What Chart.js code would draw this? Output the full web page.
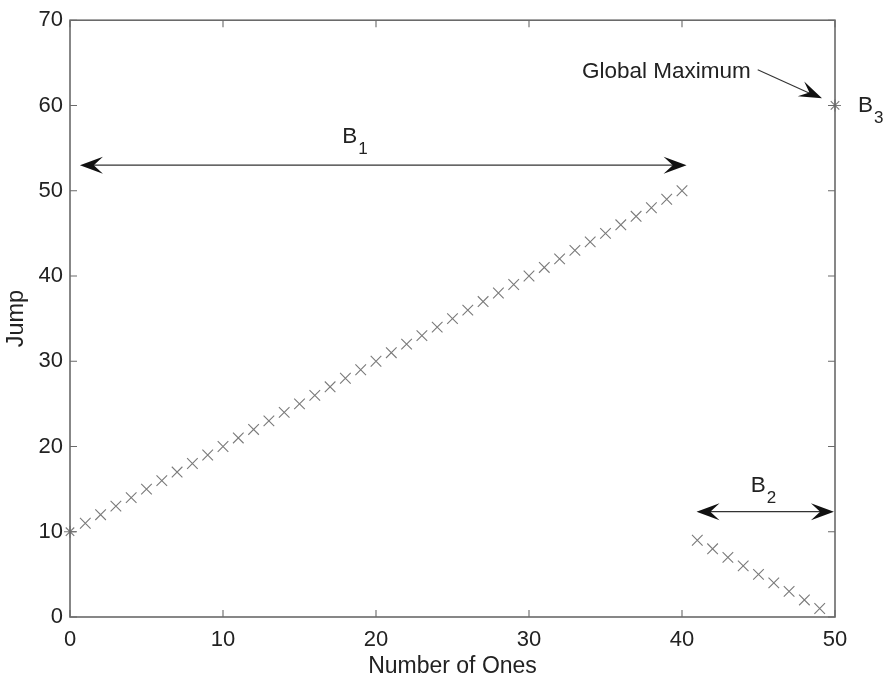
<!DOCTYPE html>
<html>
<head>
<meta charset="utf-8">
<title>Jump vs Number of Ones</title>
<script src="https://cdn.jsdelivr.net/npm/chart.js@4.4.0/dist/chart.umd.min.js"></script>
<style>
  html, body { margin: 0; padding: 0; background: #fff; }
  #wrap { position: relative; width: 883px; height: 681px; }
</style>
</head>
<body>
<div id="wrap"><canvas id="jumpChart"></canvas></div>
<script>
// Number of ones vs. jump value
const onesRising = [1, 2, 3, 4, 5, 6, 7, 8, 9, 10, 11, 12, 13, 14, 15, 16, 17, 18, 19, 20,
                    21, 22, 23, 24, 25, 26, 27, 28, 29, 30, 31, 32, 33, 34, 35, 36, 37, 38, 39, 40];
const jumpRising = [11, 12, 13, 14, 15, 16, 17, 18, 19, 20, 21, 22, 23, 24, 25, 26, 27, 28, 29, 30,
                    31, 32, 33, 34, 35, 36, 37, 38, 39, 40, 41, 42, 43, 44, 45, 46, 47, 48, 49, 50];
const onesFalling = [41, 42, 43, 44, 45, 46, 47, 48, 49];
const jumpFalling = [9, 8, 7, 6, 5, 4, 3, 2, 1];
const onesStar = [0, 50];
const jumpStar = [10, 60];

const xTicks = [0, 10, 20, 30, 40, 50];
const yTicks = [0, 10, 20, 30, 40, 50, 60, 70];

const FONT = '"Liberation Sans", Arial, Helvetica, sans-serif';
const MARK = '#7a7a7a';
const AXIS = '#6a6a6a';
const INK = '#222';

// region arrows and labels, in data units
const regionArrows = [
    { from: [0.65, 53], to: [40.3, 53], both: true },
    { from: [40.95, 12.35], to: [49.93, 12.35], both: true }
];
const regionLabels = [
    { text: 'B', sub: '1', x: 17.8, y: 55.6 },
    { text: 'B', sub: '2', x: 44.5, y: 14.7 },
    { text: 'B', sub: '3', x: 51.5, y: 59.2 }
];
const maxNote = { text: 'Global Maximum', x: 44.5, y: 64.0, arrowFrom: [44.95, 64.2], arrowTo: [49.15, 60.85] };

function toPoints(xs, ys) {
    return xs.map((x, i) => ({ x: x, y: ys[i] }));
}

function arrowHead(ctx, tx, ty, fx, fy, len, half) {
    const a = Math.atan2(ty - fy, tx - fx);
    const c = Math.cos(a), s = Math.sin(a);
    const notch = len * 0.6;
    ctx.beginPath();
    ctx.moveTo(tx, ty);
    ctx.lineTo(tx - len * c - half * s, ty - len * s + half * c);
    ctx.lineTo(tx - notch * c, ty - notch * s);
    ctx.lineTo(tx - len * c + half * s, ty - len * s - half * c);
    ctx.closePath();
    ctx.fill();
}

// box frame with inward ticks, MATLAB style
const framePlugin = {
    id: 'frame',
    afterDatasetsDraw(chart) {
        const { ctx, chartArea: a, scales } = chart;
        ctx.save();
        ctx.strokeStyle = AXIS;
        ctx.lineWidth = 1.6;
        ctx.strokeRect(a.left, a.top, a.right - a.left, a.bottom - a.top);
        ctx.lineWidth = 1.1;
        const tl = 7;
        ctx.beginPath();
        xTicks.forEach(v => {
            const px = scales.x.getPixelForValue(v);
            ctx.moveTo(px, a.bottom); ctx.lineTo(px, a.bottom - tl);
            ctx.moveTo(px, a.top); ctx.lineTo(px, a.top + tl);
        });
        yTicks.forEach(v => {
            const py = scales.y.getPixelForValue(v);
            ctx.moveTo(a.left, py); ctx.lineTo(a.left + tl, py);
            ctx.moveTo(a.right, py); ctx.lineTo(a.right - tl, py);
        });
        ctx.stroke();
        ctx.restore();
    },
    afterDraw(chart) {
        const { ctx, scales } = chart;
        const px = v => scales.x.getPixelForValue(v);
        const py = v => scales.y.getPixelForValue(v);
        ctx.save();

        // double-headed region arrows
        ctx.strokeStyle = '#333';
        ctx.fillStyle = '#111';
        ctx.lineWidth = 1.3;
        regionArrows.forEach(r => {
            const x1 = px(r.from[0]), y1 = py(r.from[1]);
            const x2 = px(r.to[0]), y2 = py(r.to[1]);
            ctx.beginPath();
            ctx.moveTo(x1 + 10, y1); ctx.lineTo(x2 - 10, y2);
            ctx.stroke();
            arrowHead(ctx, x2, y2, x1, y1, 23, 8.5);
            if (r.both) arrowHead(ctx, x1, y1, x2, y2, 23, 8.5);
        });

        // global maximum callout
        const sx = px(maxNote.arrowFrom[0]), sy = py(maxNote.arrowFrom[1]);
        const ex = px(maxNote.arrowTo[0]), ey = py(maxNote.arrowTo[1]);
        ctx.lineWidth = 1.1;
        ctx.beginPath();
        ctx.moveTo(sx, sy); ctx.lineTo(ex - 8, ey - 3);
        ctx.stroke();
        arrowHead(ctx, ex, ey, sx, sy, 23, 8);

        ctx.fillStyle = INK;
        ctx.font = '22.5px ' + FONT;
        ctx.textAlign = 'right';
        ctx.textBaseline = 'middle';
        ctx.fillText(maxNote.text, px(maxNote.x), py(maxNote.y));

        // B labels with subscripts
        ctx.textAlign = 'left';
        ctx.textBaseline = 'alphabetic';
        regionLabels.forEach(l => {
            const x = px(l.x), y = py(l.y);
            ctx.font = '22.5px ' + FONT;
            ctx.fillText(l.text, x, y);
            const w = ctx.measureText(l.text).width;
            ctx.font = '17px ' + FONT;
            ctx.fillText(l.sub, x + w + 1, y + 11);
        });
        ctx.restore();
    }
};

const ctx = document.getElementById('jumpChart').getContext('2d');
const jumpChart = new Chart(ctx, {
    type: 'scatter',
    data: {
        datasets: [
            {
                label: 'B1',
                data: toPoints(onesRising, jumpRising),
                pointStyle: 'crossRot',
                pointRadius: 7.5,
                pointHoverRadius: 7.5,
                borderColor: MARK,
                backgroundColor: MARK,
                pointBorderWidth: 1.1,
                clip: false
            },
            {
                label: 'B2',
                data: toPoints(onesFalling, jumpFalling),
                pointStyle: 'crossRot',
                pointRadius: 7.5,
                pointHoverRadius: 7.5,
                borderColor: MARK,
                backgroundColor: MARK,
                pointBorderWidth: 1.1,
                clip: false
            },
            {
                label: 'ends',
                data: toPoints(onesStar, jumpStar),
                pointStyle: 'star',
                pointRadius: 6,
                pointHoverRadius: 6,
                borderColor: MARK,
                backgroundColor: MARK,
                pointBorderWidth: 1.1,
                clip: false
            }
        ]
    },
    options: {
        responsive: true,
        maintainAspectRatio: false,
        animation: false,
        events: [],
        layout: { padding: { top: 14, right: 48, left: 0, bottom: 0 } },
        plugins: {
            legend: { display: false },
            tooltip: { enabled: false }
        },
        scales: {
            x: {
                type: 'linear',
                min: 0,
                max: 50,
                afterFit: s => { s.height = 64; },
                afterBuildTicks: s => { s.ticks = xTicks.map(v => ({ value: v })); },
                grid: { display: false, drawTicks: false },
                border: { display: false },
                ticks: { color: INK, padding: 10, font: { family: FONT, size: 22 } },
                title: {
                    display: true,
                    text: 'Number of Ones',
                    color: INK,
                    font: { family: FONT, size: 23 },
                    padding: { top: 0, bottom: 1 }
                }
            },
            y: {
                type: 'linear',
                min: 0,
                max: 70,
                afterFit: s => { s.width = 70; },
                afterBuildTicks: s => { s.ticks = yTicks.map(v => ({ value: v })); },
                grid: { display: false, drawTicks: false },
                border: { display: false },
                ticks: { color: INK, padding: 7, font: { family: FONT, size: 22 } },
                title: {
                    display: true,
                    text: 'Jump',
                    color: INK,
                    font: { family: FONT, size: 23.5 },
                    padding: { top: 2, bottom: 0 }
                }
            }
        }
    },
    plugins: [framePlugin]
});
</script>
</body>
</html>
